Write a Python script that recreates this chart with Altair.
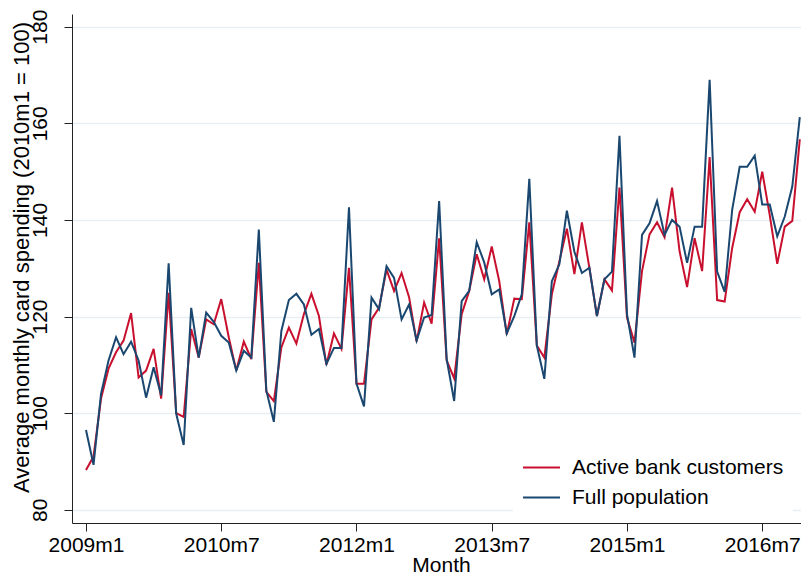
import altair as alt
import pandas as pd

# Month index 0 = 2009m1 ... 95 = 2016m12
series_names = ["Active bank customers", "Full population"]
series_colors = ["#C8102E", "#1A476F"]

active = [
    88.2, 91.0, 103.0, 109.2, 112.6, 115.0, 120.7, 107.4, 108.8, 113.3, 103.0, 124.9,
    100.0, 99.2, 117.4, 111.5, 119.4, 118.4, 123.6, 115.7, 108.8, 114.8, 111.2, 131.1,
    104.4, 102.5, 113.6, 117.7, 114.4, 120.5, 124.7, 120.1, 110.0, 116.5, 113.3, 130.1,
    106.1, 106.1, 119.4, 121.8, 129.7, 125.3, 129.0, 124.0, 114.8, 122.9, 118.5, 136.2,
    110.9, 107.2, 120.5, 125.3, 132.9, 127.7, 134.5, 127.3, 116.3, 123.7, 123.6, 139.5,
    114.0, 111.5, 124.6, 131.4, 138.2, 128.8, 139.5, 130.0, 120.1, 127.7, 125.4, 146.7,
    119.8, 114.6, 129.4, 137.0, 139.5, 136.4, 146.7, 133.5, 126.1, 136.2, 129.4, 153.0,
    123.4, 123.1, 134.2, 141.6, 144.3, 141.7, 150.0, 141.0, 130.9, 138.6, 139.8, 156.7,
]
full = [
    96.5, 89.3, 104.0, 110.9, 115.7, 112.2, 114.8, 110.9, 103.2, 109.5, 103.7, 131.0,
    99.9, 93.4, 121.8, 111.5, 120.8, 118.9, 116.0, 114.6, 108.8, 112.9, 111.5, 138.0,
    104.7, 98.2, 117.0, 123.4, 124.7, 122.5, 116.2, 117.4, 110.2, 113.5, 113.5, 142.6,
    106.1, 101.4, 123.9, 121.5, 130.4, 128.0, 119.4, 122.5, 115.0, 119.8, 120.3, 143.9,
    111.2, 102.5, 123.2, 125.3, 135.4, 131.2, 124.6, 125.6, 116.5, 120.1, 124.6, 148.5,
    114.0, 107.1, 127.3, 130.8, 141.9, 133.4, 129.0, 130.1, 120.1, 127.7, 129.3, 157.4,
    120.5, 111.5, 136.9, 139.3, 143.9, 136.9, 140.0, 138.6, 131.1, 138.6, 138.6, 169.0,
    129.3, 125.1, 142.1, 151.0, 151.0, 153.3, 143.2, 143.2, 136.6, 140.7, 146.9, 161.3,
]
x_ticks = [0, 18, 36, 54, 72, 90]
y_ticks = [80, 100, 120, 140, 160, 180]

rows = []
for name, vals in zip(series_names, [active, full]):
    for i, v in enumerate(vals):
        rows.append({"month": i, "value": v, "series": name})
df = pd.DataFrame(rows)

FONT = "Liberation Sans"

chart = alt.Chart(df).mark_line(strokeWidth=2, strokeJoin="miter").encode(
    x=alt.X(
        "month:Q",
        scale=alt.Scale(domain=[-1.863, 95.16], nice=False, zero=False),
        axis=alt.Axis(
            values=x_ticks,
            labelExpr="floor(2009 + datum.value / 12) + 'm' + (datum.value % 12 + 1)",
            title="Month",
            grid=False,
            tickSize=8,
            labelPadding=3,
            labelFontSize=21,
            titleFontSize=21,
            titleFontWeight="normal",
            titleX=369,
            titleY=48,
            titleBaseline="alphabetic",
            titleAlign="center",
            labelFlush=False,
        ),
    ),
    y=alt.Y(
        "value:Q",
        scale=alt.Scale(domain=[77.25, 182.63], nice=False, zero=False),
        axis=alt.Axis(
            values=y_ticks,
            title="Average monthly card spending (2010m1 = 100)",
            grid=True,
            tickSize=8,
            labelAngle=270,
            labelAlign="center",
            labelBaseline="alphabetic",
            labelPadding=18,
            labelFontSize=21,
            titleFontSize=22,
            titleFontWeight="normal",
            titleAngle=270,
            titleX=-44,
            titleY=243,
            titleAlign="center",
            titleBaseline="alphabetic",
            labelFlush=False,
        ),
    ),
    color=alt.Color(
        "series:N",
        scale=alt.Scale(domain=series_names, range=series_colors),
        legend=alt.Legend(
            orient="none",
            legendX=441,
            legendY=425,
            title=None,
            symbolType="stroke",
            symbolSize=1369,
            symbolStrokeWidth=2,
            labelFontSize=21,
            labelOffset=11,
            labelLimit=0,
            fillColor="white",
            padding=9,
            rowPadding=0,
            direction="vertical",
        ),
    ),
).properties(
    width=729,
    height=509,
    autosize=alt.AutoSizeParams(type="none"),
    padding={"left": 64, "top": 6, "right": 0, "bottom": 55},
).configure(
    font=FONT,
).configure_axis(
    labelFont=FONT,
    titleFont=FONT,
    labelColor="#000000",
    titleColor="#000000",
    domainColor="#222222",
    tickColor="#222222",
    domainWidth=1,
    tickWidth=1,
    gridColor="#E6EEF2",
    gridWidth=1.5,
).configure_legend(
    labelFont=FONT,
    labelColor="#000000",
).configure_view(
    strokeWidth=0,
)

chart.save("out.html", embed_options={"renderer": "svg", "actions": False})
